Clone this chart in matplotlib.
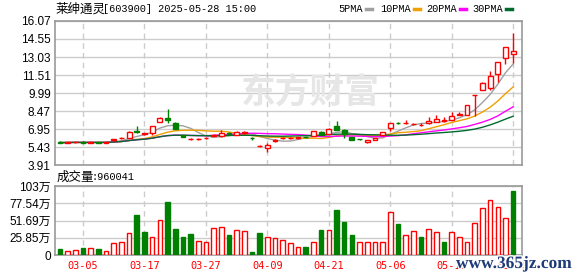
import numpy as np
import pandas as pd
import matplotlib
matplotlib.use('Agg')
import matplotlib.pyplot as plt
from matplotlib.lines import Line2D
import matplotlib.patheffects as pe

W, H = 578, 276  # 画布像素

# 交易日
dates = ['02-28', '03-03', '03-04', '03-05', '03-06', '03-07', '03-10', '03-11', '03-12', '03-13',
         '03-14', '03-17', '03-18', '03-19', '03-20', '03-21', '03-24', '03-25', '03-26', '03-27',
         '03-28', '03-31', '04-01', '04-02', '04-03', '04-07', '04-08', '04-09', '04-10', '04-11',
         '04-14', '04-15', '04-16', '04-17', '04-18', '04-21', '04-22', '04-23', '04-24', '04-25',
         '04-28', '04-29', '04-30', '05-06', '05-07', '05-08', '05-09', '05-12', '05-13', '05-14',
         '05-15', '05-16', '05-19', '05-20', '05-21', '05-22', '05-23', '05-26', '05-27', '05-28']

# 日K数据
opens = [5.88, 5.78, 5.82, 5.86, 5.80, 5.84, 5.80, 5.98, 6.16, 6.22,
         6.82, 6.54, 6.61, 7.58, 7.85, 7.49, 6.42, 6.10, 6.11, 6.18,
         6.38, 6.36, 6.58, 6.48, 6.61, 6.21, 5.48, 5.35, 5.91, 6.16,
         6.18, 6.18, 6.31, 6.36, 6.73, 6.56, 7.18, 6.84, 6.28, 6.09,
         5.89, 6.00, 6.42, 7.06, 7.46, 7.44, 7.34, 7.29, 7.43, 7.52,
         7.60, 7.74, 8.13, 8.16, 9.78, 10.27, 10.39, 11.60, 12.92, 13.26]
highs = [5.92, 5.86, 5.88, 5.90, 5.86, 5.88, 5.86, 6.10, 6.28, 6.76,
         7.18, 6.64, 7.21, 7.96, 8.61, 7.56, 6.48, 6.18, 6.18, 6.26,
         6.52, 6.90, 6.68, 6.76, 6.81, 6.26, 5.56, 5.80, 6.08, 6.26,
         6.28, 6.28, 6.34, 6.81, 6.76, 7.01, 7.63, 6.98, 6.31, 6.12,
         6.06, 6.18, 6.72, 7.46, 7.52, 7.74, 7.46, 7.43, 7.99, 8.16,
         7.94, 8.41, 8.39, 9.00, 9.82, 10.90, 11.85, 12.58, 13.85, 15.08]
lows = [5.76, 5.74, 5.78, 5.78, 5.76, 5.78, 5.78, 5.94, 6.14, 6.18,
        6.61, 6.48, 6.44, 7.56, 7.49, 6.96, 6.28, 6.04, 6.04, 6.14,
        6.34, 6.25, 6.46, 6.46, 6.56, 6.06, 5.46, 5.04, 5.86, 6.11,
        6.14, 6.14, 6.21, 6.34, 6.42, 6.54, 6.84, 6.22, 5.98, 6.04,
        5.81, 5.98, 6.40, 6.76, 7.38, 7.40, 7.30, 7.22, 7.40, 7.50,
        7.56, 7.70, 8.10, 8.14, 8.07, 10.22, 10.24, 10.89, 12.47, 12.50]
closes = [5.80, 5.82, 5.84, 5.80, 5.83, 5.80, 5.84, 6.08, 6.22, 6.73,
          6.73, 6.58, 7.18, 7.91, 7.71, 6.98, 6.31, 6.14, 6.14, 6.22,
          6.46, 6.58, 6.54, 6.68, 6.68, 6.16, 5.54, 5.63, 6.06, 6.21,
          6.22, 6.24, 6.26, 6.78, 6.42, 6.98, 6.86, 6.56, 6.00, 6.07,
          6.06, 6.16, 6.70, 7.46, 7.44, 7.47, 7.38, 7.32, 7.65, 7.79,
          7.74, 8.05, 8.24, 9.00, 9.82, 10.83, 11.43, 12.58, 13.85, 13.51]

# 成交量（万），1 = 上涨(红) 0 = 下跌(绿)
vols = [9, 5.5, 7, 10.5, 10, 9, 5.5, 17.5, 19, 32.5,
        60, 34.5, 26.5, 52, 79.5, 39, 26.5, 31.5, 21, 19,
        40, 41.5, 30, 37.5, 36, 4.5, 32.5, 27, 25.5, 22.5,
        17.5, 11.5, 12, 19, 37.5, 37.5, 67.5, 49.5, 30, 19.5,
        19.5, 19.5, 19.5, 64.5, 46.5, 29.5, 36, 27, 39, 34,
        19.5, 34.5, 27, 19.5, 48, 70.5, 82.5, 72, 55.5, 96]
vol_up = [0, 1, 1, 0, 1, 0, 1, 1, 1, 1,
          0, 0, 1, 1, 0, 0, 0, 0, 1, 1,
          1, 1, 0, 1, 1, 0, 0, 1, 1, 1,
          1, 1, 0, 1, 0, 1, 0, 0, 0, 1,
          1, 1, 1, 1, 0, 1, 1, 0, 1, 1,
          0, 1, 1, 1, 1, 1, 1, 1, 1, 0]

price_ticks = [3.91, 5.43, 6.95, 8.47, 9.99, 11.51, 13.03, 14.55, 16.07]
vol_ticks = [0, 25.85, 51.69, 77.54, 103.39]
vol_tick_labels = ['0', '25.85万', '51.69万', '77.54万', '103万']
ma_periods = [5, 10, 20, 30]
ma_colors = ['#a0a0a0', '#f0a000', '#ff00ff', '#006b2e']

title_cn = '莱绅通灵'
title_rest = '[603900] 2025-05-28 15:00'
vol_title = '成交量'
last_vol = ':960041'

RED = '#ff0000'
GREEN = '#008000'
GRID = '#cccccc'
SPINE = '#999999'
CJK = ['Noto Sans CJK SC', 'DejaVu Sans']
MONO = 'Liberation Mono'

fig = plt.figure(figsize=(W / 100, H / 100), dpi=100)
fig.patch.set_facecolor('white')


def fx(x):
    return x / W


def fy(y):
    return 1 - y / H


ax = fig.add_axes([fx(55), fy(165), 467 / W, 144 / H])
axv = fig.add_axes([fx(55), fy(255), 467 / W, 69 / H])

x = np.arange(len(dates))
o = np.array(opens)
hi = np.array(highs)
lo = np.array(lows)
c = np.array(closes)
up = c >= o
col = np.where(up, RED, GREEN)
face = np.where(up, 'white', GREEN)
b_lo = np.minimum(o, c)
b_hi = np.maximum(o, c)
b_h = np.maximum(b_hi - b_lo, 0.03)

# 均线
for n, mc in zip(ma_periods, ma_colors):
    ma = pd.Series(c).rolling(n, min_periods=1).mean()
    ax.plot(x, ma, color=mc, lw=1, zorder=2)

# K线
ax.vlines(x, lo, b_lo, colors=col, lw=1, zorder=3)
ax.vlines(x, b_hi, hi, colors=col, lw=1, zorder=3)
ax.bar(x, b_h, bottom=b_lo, width=0.62, color=face, edgecolor=col, linewidth=1, zorder=4)

# 成交量
vcol = [RED if u else GREEN for u in vol_up]
vface = ['white' if u else GREEN for u in vol_up]
axv.bar(x, vols, width=0.6, color=vface, edgecolor=vcol, linewidth=1, zorder=3)

tick_idx = x[3::8]
for a in (ax, axv):
    a.set_xlim(-0.65, 60.15)
    a.set_xticks(tick_idx)
    a.grid(axis='y', color=GRID, lw=1, ls='-', zorder=0)
    a.grid(axis='x', color=GRID, lw=1, ls=(0, (4, 3)), zorder=0)
    a.tick_params(length=0, pad=3)
    for s in a.spines.values():
        s.set_color(SPINE)
        s.set_linewidth(1.2)

ax.set_ylim(price_ticks[0], price_ticks[-1])
ax.set_yticks(price_ticks)
ax.set_yticklabels([f'{t:.2f}' for t in price_ticks], fontsize=8.5, family='Liberation Sans')
ax.set_xticklabels([])

axv.set_ylim(0, vol_ticks[-1])
axv.set_yticks(vol_ticks)
axv.set_yticklabels(vol_tick_labels, fontsize=8.5, family=['Liberation Sans', 'Noto Sans CJK SC'])
axv.set_xticklabels([dates[i] for i in tick_idx], fontsize=7.4, family='DejaVu Sans Mono', color=RED)
axv.tick_params(axis='x', pad=4)

# 水印
fig.text(fx(310), fy(92), '东方财富', fontsize=25, fontweight='bold', family=CJK,
         color='#e6e6e6', ha='center', va='center', zorder=0)

# 标题
fig.text(fx(55), fy(9), title_cn, fontsize=9, family=CJK, va='center')
fig.text(fx(103), fy(9), title_rest, fontsize=7.4, family=MONO, va='center')
fig.text(fx(57), fy(177), vol_title, fontsize=9, family=CJK, va='center')
fig.text(fx(92), fy(177), last_vol, fontsize=7.4, family=MONO, va='center')

# 图例
lx = [338, 380, 426, 472]
for n, mc, x0 in zip(ma_periods, ma_colors, lx):
    label = f'{n}PMA'
    fig.text(fx(x0), fy(9), label, fontsize=7.4, family=MONO, va='center')
    sx = x0 + len(label) * 6 + 4
    fig.add_artist(Line2D([fx(sx), fx(sx + 6)], [fy(9), fy(9)], color=mc, lw=2.5,
                          transform=fig.transFigure))

# 网站水印
fig.text(fx(456), fy(264), 'www.365jz.com', fontsize=12.5, fontweight='bold',
         family='Liberation Serif', color='#1f3a78', va='center',
         path_effects=[pe.withStroke(linewidth=2, foreground='white')])

fig.savefig('out.png', dpi=100)
